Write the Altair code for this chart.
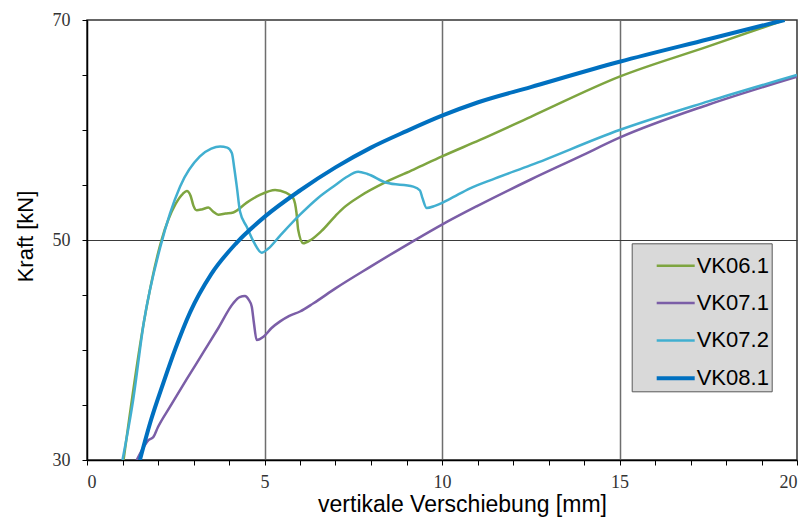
import altair as alt
import pandas as pd

# ---- data ----
names = ["VK06.1", "VK07.1", "VK07.2", "VK08.1"]

vk061_x = [1.03, 1.6, 2.1, 2.5, 2.7, 2.81, 2.92, 3.0, 3.09, 3.25, 3.42, 3.55, 3.7, 3.9, 4.12,
           4.5, 4.87, 5.3, 5.6, 5.81, 5.9, 5.95, 6.09, 6.3, 6.6, 7.0, 7.22, 7.7, 8.44, 9.2,
           10.0, 11.07, 12.5, 15.0, 17.5, 19.65]
vk061_y = [30.0, 42.5, 50.0, 53.3, 54.2, 54.45, 54.0, 53.1, 52.7, 52.8, 52.95, 52.6, 52.3, 52.4, 52.5,
           53.4, 54.1, 54.55, 54.3, 53.8, 52.5, 50.9, 49.7, 50.0, 50.8, 52.2, 52.9, 54.0, 55.3, 56.4,
           57.6, 59.1, 61.2, 64.85, 67.6, 70.0]

vk071_x = [1.4, 1.6, 1.73, 1.87, 2.0, 2.34, 2.8, 3.28, 3.7, 4.12, 4.3, 4.45, 4.55, 4.64, 4.7,
           4.78, 4.97, 5.2, 5.44, 5.7, 6.0, 6.38, 7.0, 8.0, 8.82, 9.19, 10.0, 11.0, 12.5, 13.89,
           15.0, 17.5, 20.0]
vk071_y = [30.0, 31.2, 31.8, 32.1, 33.0, 34.85, 37.3, 39.8, 42.0, 44.25, 44.8, 44.9, 44.6, 43.95, 42.5,
           40.9, 41.2, 42.0, 42.6, 43.1, 43.5, 44.25, 45.6, 47.6, 49.2, 49.9, 51.4, 53.1, 55.5, 57.6,
           59.3, 62.3, 64.85]

vk072_x = [1.0, 1.3, 1.6, 2.06, 2.62, 3.18, 3.5, 3.75, 3.95, 4.08, 4.15, 4.22, 4.31, 4.5, 4.7,
           4.92, 5.1, 5.44, 6.0, 6.5, 7.0, 7.3, 7.64, 7.9, 8.44, 9.19, 9.38, 9.45, 9.57, 9.8,
           10.2, 10.79, 11.5, 12.5, 15.0, 17.5, 20.0]
vk072_y = [30.0, 35.45, 42.5, 49.3, 54.85, 57.6, 58.3, 58.5, 58.4, 57.9, 56.5, 54.85, 52.6, 51.2, 49.8,
           48.85, 49.2, 50.4, 52.3, 53.8, 55.0, 55.7, 56.2, 56.0, 55.2, 54.85, 54.5, 53.8, 52.9, 53.1,
           53.7, 54.7, 55.6, 56.8, 60.0, 62.6, 65.0]

vk081_x = [1.49, 1.8, 2.15, 2.5, 2.9, 3.5, 4.2, 5.0, 6.0, 7.0, 8.0, 9.0, 10.0, 11.0, 12.5,
           15.0, 17.5, 19.65]
vk081_y = [30.0, 33.6, 37.0, 40.2, 43.4, 46.9, 49.7, 52.1, 54.5, 56.6, 58.4, 59.9, 61.3, 62.5, 63.9,
           66.2, 68.25, 70.0]

x_ticks = list(range(0, 21))
y_ticks = list(range(30, 75, 5))

colors = ["#7ea540", "#7b5ea7", "#41afd0", "#0070c0"]
widths = [2.5, 2.5, 2.5, 4.0]

rows = []
for name, xs, ys in zip(names, [vk061_x, vk071_x, vk072_x, vk081_x],
                        [vk061_y, vk071_y, vk072_y, vk081_y]):
    for i, (xv, yv) in enumerate(zip(xs, ys)):
        rows.append({"Serie": name, "x": xv, "y": yv, "i": i})
df = pd.DataFrame(rows)

x_axis = alt.Axis(
    title="vertikale Verschiebung [mm]",
    values=x_ticks,
    labelExpr="datum.value % 5 === 0 ? datum.label : ''",
    labelOverlap=False,
    labelFont="Liberation Serif", labelFontSize=18, labelColor="#333333",
    labelPadding=8,
    tickSize=5, tickColor="#000000", tickWidth=1,
    domainColor="#000000", domainWidth=1.5,
    grid=True, gridColor="#6e6e6e", gridWidth=1.5,
    gridOpacity={"condition": {"test": "datum.value % 5 === 0 && datum.value > 0 && datum.value < 20",
                               "value": 1}, "value": 0},
    titleFont="Liberation Sans", titleFontSize=23, titleFontWeight="normal", titleColor="#000000",
    titleX=375, titleY=51, titleBaseline="alphabetic", titleAlign="center",
)

y_axis = alt.Axis(
    title="Kraft [kN]",
    values=y_ticks,
    labelExpr="(datum.value - 30) % 20 === 0 ? datum.label : ''",
    labelOverlap=False,
    labelFont="Liberation Serif", labelFontSize=18, labelColor="#333333",
    labelPadding=12,
    tickSize=5, tickColor="#000000", tickWidth=1,
    domainColor="#000000", domainWidth=1.5,
    grid=True, gridColor="#3a3a3a", gridWidth=1,
    gridOpacity={"condition": {"test": "datum.value === 50", "value": 1}, "value": 0},
    titleFont="Liberation Sans", titleFontSize=22, titleFontWeight="normal", titleColor="#000000",
    titleX=-55, titleY=216, titleBaseline="alphabetic", titleAlign="center", titleAngle=-90,
)

leg = alt.Legend(title=None, labelExpr="datum.label + '\u2002\u2005'")

chart = alt.Chart(df).mark_line(interpolate="monotone", clip=True).encode(
    x=alt.X("x:Q", scale=alt.Scale(domain=[0, 20], nice=False, zero=False), axis=x_axis),
    y=alt.Y("y:Q", scale=alt.Scale(domain=[30, 70], nice=False, zero=False), axis=y_axis),
    color=alt.Color("Serie:N", scale=alt.Scale(domain=names, range=colors), legend=leg),
    strokeWidth=alt.StrokeWidth("Serie:N", scale=alt.Scale(type="ordinal", domain=names, range=widths),
                                legend=leg),
    order="i:Q",
).properties(
    width=710, height=440,
    padding={"left": 79, "top": 12, "right": 3, "bottom": 58},
    autosize=alt.AutoSizeParams(type="none"),
).configure_view(
    stroke="#333333", strokeWidth=1.5
).configure_legend(
    orient="none", legendX=544.7, legendY=223.3,
    fillColor="#d9d9d9", strokeColor="#595959", padding=2,
    symbolType="stroke", symbolSize=1444, symbolOffset=21,
    labelFont="Liberation Sans", labelFontSize=22, labelColor="#000000",
    labelOffset=0, rowPadding=5.3,
)

chart.save("out.html", embed_options={"renderer": "svg", "actions": False})
